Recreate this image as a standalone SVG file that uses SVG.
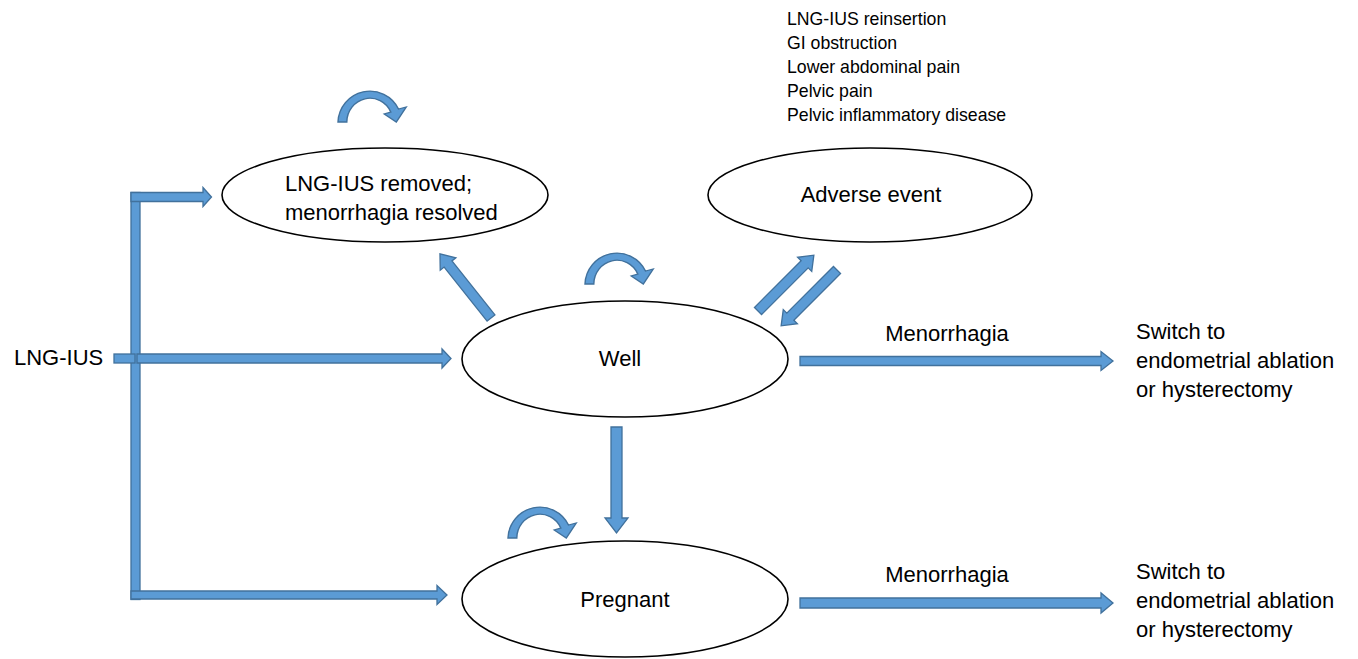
<svg xmlns="http://www.w3.org/2000/svg" width="1358" height="659" viewBox="0 0 1358 659">
<style>
.node{fill:#fff;stroke:#000;stroke-width:1.6}
.t{font-family:"Liberation Sans",Arial,sans-serif;font-size:22px;fill:#000}
.s{font-family:"Liberation Sans",Arial,sans-serif;font-size:17.7px;fill:#000}
.ar{fill:#5B9BD5;stroke:#41719C;stroke-width:1.3;stroke-linejoin:miter}
</style>
<defs>
<path id="curl" d="M0,34 A29,32 0 0 1 55,21 L62,19 L53,34 L42,26 L48,24 A21,24 0 0 0 8,34 Z"/>
</defs>
<rect width="1358" height="659" fill="#fff"/>
<g id="connectors">
<rect class="ar" x="131" y="192.5" width="9" height="407"/>
<polygon class="ar" points="131,192.5 203,192.5 203,187.5 211.5,197 203,206.5 203,201.5 131,201.5"/>
<rect class="ar" x="114" y="354" width="21" height="9"/>
<polygon class="ar" points="137,354 442,354 442,349 451,358.5 442,368 442,363 137,363"/>
<polygon class="ar" points="131,591 437,591 437,585.5 447,595 437,604.5 437,599 131,599"/>
<polygon class="ar" points="800,356.5 1101,356.5 1101,351.5 1113,361 1101,370.5 1101,365.5 800,365.5"/>
<polygon class="ar" points="800,598 1101,598 1101,593 1113,603 1101,613 1101,608 800,608"/>
<polygon class="ar" points="611,427 622,427 622,518 628,518 616.5,533 605,518 611,518"/>
<polygon class="ar" transform="translate(491,318) rotate(-128.5)" points="0,-5 69,-5 69,-10 82,0 69,10 69,5 0,5"/>
<polygon class="ar" transform="translate(758,311) rotate(-45)" points="0,-5 66,-5 66,-10 79,0 66,10 66,5 0,5"/>
<polygon class="ar" transform="translate(837,270) rotate(135)" points="0,-5 66,-5 66,-10 79,0 66,10 66,5 0,5"/>
<use href="#curl" class="ar" transform="translate(338,88) scale(1.1,1)"/>
<use href="#curl" class="ar" transform="translate(585,250) scale(1.1,1)"/>
<use href="#curl" class="ar" transform="translate(508,504) scale(1.1,1)"/>
</g>
<g id="n-removed">
<ellipse class="node" cx="385" cy="195" rx="163" ry="47"/>
<text class="t" x="285" y="191">LNG-IUS removed;</text>
<text class="t" x="285" y="220">menorrhagia resolved</text>
</g>
<g id="n-adverse">
<ellipse class="node" cx="870" cy="195" rx="162" ry="47"/>
<text class="t" x="871" y="202" text-anchor="middle">Adverse event</text>
</g>
<g id="n-adverse-list">
<text class="s" x="787" y="25">LNG-IUS reinsertion</text>
<text class="s" x="787" y="49">GI obstruction</text>
<text class="s" x="787" y="73">Lower abdominal pain</text>
<text class="s" x="787" y="97">Pelvic pain</text>
<text class="s" x="787" y="121">Pelvic inflammatory disease</text>
</g>
<g id="n-well">
<ellipse class="node" cx="625" cy="359" rx="163" ry="58"/>
<text class="t" x="620" y="366" text-anchor="middle">Well</text>
</g>
<g id="n-pregnant">
<ellipse class="node" cx="625" cy="599" rx="163" ry="58"/>
<text class="t" x="625" y="607" text-anchor="middle">Pregnant</text>
</g>
<g id="n-lngius">
<text class="t" x="14" y="365">LNG-IUS</text>
</g>
<g id="l-men1"><text class="t" x="947" y="341" text-anchor="middle">Menorrhagia</text></g>
<g id="l-men2"><text class="t" x="947" y="582" text-anchor="middle">Menorrhagia</text></g>
<g id="n-switch1">
<text class="t" x="1136" y="339">Switch to</text>
<text class="t" x="1136" y="368">endometrial ablation</text>
<text class="t" x="1136" y="397">or hysterectomy</text>
</g>
<g id="n-switch2">
<text class="t" x="1136" y="579">Switch to</text>
<text class="t" x="1136" y="608">endometrial ablation</text>
<text class="t" x="1136" y="637">or hysterectomy</text>
</g>
</svg>
